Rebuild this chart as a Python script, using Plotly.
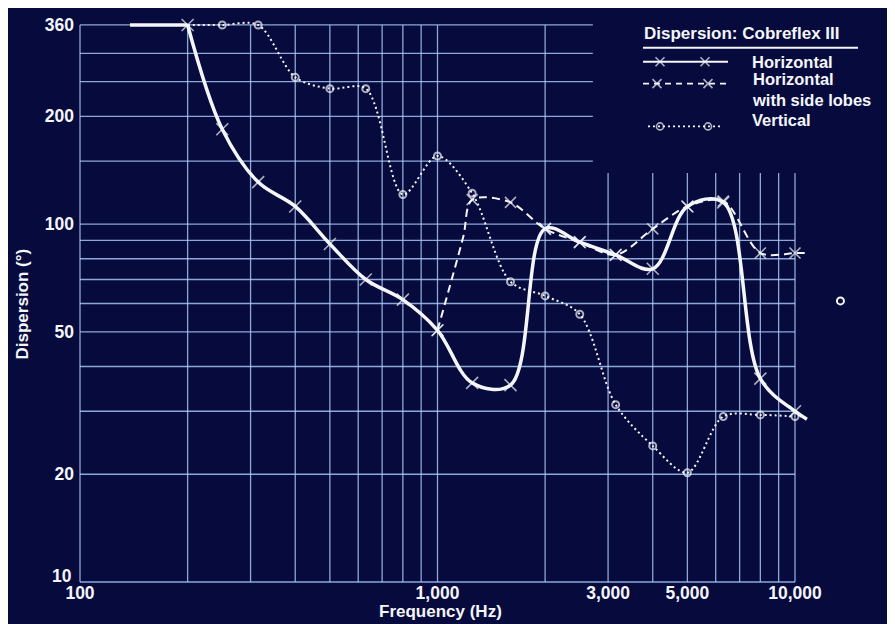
import plotly.graph_objects as go
import math

# ---------------- data ----------------
h_freq = [138, 200, 250, 315, 400, 500, 630, 800, 1000, 1250, 1600, 2000, 2500, 3150, 4000, 5000, 6300, 8000, 10000, 10800]
h_val = [360, 360, 184, 131, 112, 88, 70, 61.5, 50.5, 36, 35.5, 97, 89, 82, 75, 112, 115, 37, 30, 28.5]

s_freq = [1000, 1180, 1250, 1600, 2000, 2500, 3150, 4000, 5000, 6300, 8000, 10000, 10700]
s_val = [50.5, 92, 117, 115, 97, 89, 82, 97, 112, 116, 83, 83, 83]

v_freq = [200, 250, 315, 400, 500, 630, 800, 1000, 1250, 1600, 2000, 2500, 3150, 4000, 5000, 6300, 8000, 10000]
v_val = [360, 360, 360, 257, 239, 239, 121, 155, 122, 69, 63, 56, 31.3, 24, 20.2, 29, 29.3, 29]

stray_freq = [13400]
stray_val = [61]

x_tickvals = [100, 1000, 3000, 5000, 10000]
x_ticktext = ["100", "1,000", "3,000", "5,000", "10,000"]
y_tickvals = [10, 20, 50, 100, 200, 360]
y_ticktext = ["10", "20", "50", "100", "200", "360"]

grid_x = [100, 200, 300, 400, 500, 600, 700, 800, 900, 1000, 2000, 3000, 4000, 5000, 6000, 7000, 8000, 9000, 10000]
grid_y = [10, 20, 30, 40, 50, 60, 70, 80, 90, 100, 150, 200, 250, 300, 360]

legend_labels = ["Horizontal", "Horizontal<br>with side lobes", "Vertical"]
legend_title = "Dispersion: Cobreflex III"
x_title = "Frequency (Hz)"
y_title = "Dispersion (°)"

# ---------------- layout constants (screen pixels; page body adds an 8px offset) ----------------
W, H = 895, 624
OFF = 8
X0PX, X1PX = 80, 795          # 100 Hz and 10 kHz on screen
Y0PX, Y1PX = 582, 22          # 10 and 360 on screen
L_s, R_s, T_s, B_s = 75, 860, 15, 583   # plot area on screen
dec_x = (X1PX - X0PX) / 2.0
dec_y = (Y0PX - Y1PX) / (math.log10(360) - 1)
xr = [2 - (X0PX - L_s) / dec_x, 4 + (R_s - X1PX) / dec_x]
yr = [1 - (B_s - Y0PX) / dec_y, math.log10(360) + (Y1PX - T_s) / dec_y]


def px(sx):
    return (sx - L_s) / (R_s - L_s)


def py(sy):
    return (B_s - sy) / (B_s - T_s)


BG = "#070a3c"
GRID = "rgba(172,208,255,0.80)"
WHITE = "#f4f6fb"
FONT = "Liberation Sans, Arial, sans-serif"

# grid cut-out below the legend
cut_f = 2720      # horizontal lines >=150 end here
cut_top = 139     # vertical lines >=3000 stop here

fig = go.Figure()

# grid (horizontal)
gx, gy = [], []
for v in grid_y:
    gx += [100, cut_f if v >= 150 else 10000, None]
    gy += [v, v, None]
fig.add_trace(go.Scatter(x=gx, y=gy, mode="lines", line=dict(color=GRID, width=1.3),
                         hoverinfo="skip", showlegend=False))
# grid (vertical)
gx, gy = [], []
for f in grid_x:
    gx += [f, f, None]
    gy += [10, cut_top if f >= 3000 else 360, None]
fig.add_trace(go.Scatter(x=gx, y=gy, mode="lines", line=dict(color=GRID, width=1.3),
                         hoverinfo="skip", showlegend=False))

# series: Vertical
v_sizes = [0 if i == 0 else 7 for i in range(len(v_freq))]
fig.add_trace(go.Scatter(x=v_freq, y=v_val, mode="lines+markers", name="Vertical",
                         line=dict(color=WHITE, width=2, dash="2px,3px", shape="spline", smoothing=0.9),
                         marker=dict(symbol="circle-open", size=v_sizes, color=WHITE, line=dict(width=2, color=WHITE)),
                         cliponaxis=False, showlegend=False))
# series: Horizontal with side lobes
s_sizes = [0 if i in (1, len(s_freq) - 1) else 11 for i in range(len(s_freq))]
fig.add_trace(go.Scatter(x=s_freq, y=s_val, mode="lines+markers", name="Horizontal with side lobes",
                         line=dict(color=WHITE, width=2, dash="8px,5px", shape="spline", smoothing=0.9),
                         marker=dict(symbol="x-thin-open", size=s_sizes, color=WHITE, line=dict(width=1.6, color=WHITE)),
                         cliponaxis=False, showlegend=False))
# series: Horizontal (flat lead-in drawn straight, rest as spline)
fig.add_trace(go.Scatter(x=h_freq[:2], y=h_val[:2], mode="lines",
                         line=dict(color=WHITE, width=3.5), hoverinfo="skip", showlegend=False))
h_sizes = [0 if i == len(h_freq) - 2 else 12 for i in range(len(h_freq) - 1)]
fig.add_trace(go.Scatter(x=h_freq[1:], y=h_val[1:], mode="lines+markers", name="Horizontal",
                         line=dict(color=WHITE, width=3.5, shape="spline", smoothing=1.0),
                         marker=dict(symbol="x-thin-open", size=h_sizes, color=WHITE, line=dict(width=1.6, color=WHITE)),
                         cliponaxis=False, showlegend=False))
fig.add_trace(go.Scatter(x=stray_freq, y=stray_val, mode="markers",
                         marker=dict(symbol="circle-open", size=7, color=WHITE, line=dict(width=2, color=WHITE)),
                         cliponaxis=False, showlegend=False, hoverinfo="skip"))

# legend samples (overlay axes in screen-pixel coordinates)
legend_rows = [
    dict(y=59, dash="solid", width=2, sym="x-thin-open", ms=9, xs=[643, 660, 705, 728], ty=59),
    dict(y=81, dash="6px,5px", width=1.8, sym="x-thin-open", ms=9, xs=[643, 657, 708, 728], ty=87),
    dict(y=124, dash="2px,3px", width=1.8, sym="circle-open", ms=7, xs=[648, 660, 708, 722], ty=118),
]
for row, lab in zip(legend_rows, legend_labels):
    fig.add_trace(go.Scatter(x=row["xs"], y=[row["y"]] * 4, xaxis="x2", yaxis="y2",
                             mode="lines+markers",
                             line=dict(color=WHITE, width=row["width"], dash=row["dash"]),
                             marker=dict(symbol=row["sym"], size=[0, row["ms"], row["ms"], 0],
                                         color=WHITE, line=dict(width=1.6, color=WHITE)),
                             hoverinfo="skip", showlegend=False))
    fig.add_annotation(x=px(750), y=py(row["ty"]), xref="paper", yref="paper", text=lab, showarrow=False,
                       xanchor="left", yanchor="middle", align="left",
                       font=dict(family=FONT, size=16.5, color=WHITE, weight="bold"))

fig.add_annotation(x=px(642), y=py(31), xref="paper", yref="paper", text=legend_title, showarrow=False,
                   xanchor="left", yanchor="middle",
                   font=dict(family=FONT, size=17, color=WHITE, weight="bold"))
fig.add_shape(type="line", xref="paper", yref="paper", x0=px(643), x1=px(858), y0=py(45), y1=py(45),
              line=dict(color=WHITE, width=2))

# axis titles
fig.add_annotation(x=px(440), y=py(612), xref="paper", yref="paper", text=x_title, showarrow=False,
                   xanchor="center", yanchor="middle",
                   font=dict(family=FONT, size=17, color=WHITE, weight="bold"))
fig.add_annotation(x=px(22), y=py(303), xref="paper", yref="paper", text=y_title, showarrow=False,
                   textangle=-90, xanchor="center", yanchor="middle",
                   font=dict(family=FONT, size=17, color=WHITE, weight="bold"))

# the lowest y label sits a little above its line (clear of the "100" x label)
fig.add_annotation(x=px(74), y=py(576), xref="paper", yref="paper", text=y_ticktext[0], showarrow=False,
                   xanchor="right", yanchor="middle",
                   font=dict(family=FONT, size=17.5, color=WHITE, weight="bold"))

fig.update_layout(
    width=W, height=H,
    margin=dict(l=L_s - OFF, r=W - (R_s - OFF), t=T_s - OFF, b=H - (B_s - OFF)),
    paper_bgcolor=BG, plot_bgcolor=BG,
    font=dict(family=FONT, color=WHITE),
    xaxis=dict(type="log", range=xr, showgrid=False, zeroline=False, showline=False,
               tickvals=x_tickvals, ticktext=x_ticktext, ticks="", ticklabelstandoff=-3,
               tickfont=dict(family=FONT, size=17.5, color=WHITE, weight="bold")),
    yaxis=dict(type="log", range=yr, showgrid=False, zeroline=False, showline=False,
               tickvals=y_tickvals[1:], ticktext=y_ticktext[1:], ticks="",
               tickfont=dict(family=FONT, size=17.5, color=WHITE, weight="bold")),
    xaxis2=dict(overlaying="x", range=[L_s, R_s], visible=False, showgrid=False),
    yaxis2=dict(overlaying="y", range=[B_s, T_s], visible=False, showgrid=False),
    showlegend=False,
)

fig.write_html("out.html")
